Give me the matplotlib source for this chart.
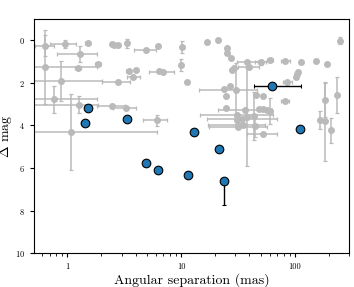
import numpy as np
import matplotlib
matplotlib.use("Agg")
import matplotlib.pyplot as plt

plt.rcParams['font.family'] = 'serif'
plt.rcParams['font.serif'] = ['cmr10', 'DejaVu Serif']
plt.rcParams['mathtext.fontset'] = 'cm'
plt.rcParams['axes.formatter.use_mathtext'] = True

# Literature companions (gray)
gray_sep = [0.64, 0.64, 0.96, 1.51, 1.30, 1.88, 1.25, 0.886, 2.81, 0.77,
            1.27, 2.49, 3.30, 1.08, 6.14, 4.94, 6.34, 2.77, 2.47, 2.59,
            3.34, 10.2, 10.0, 11.3, 3.46, 4.04, 3.78, 6.47, 6.93, 17.0,
            21.1, 25.5, 25.6, 27.4, 29.5, 28.0, 37.9, 50.3, 60.8, 82.4,
            114, 155, 193, 249, 39.7, 106, 102, 104, 85.3, 27.1,
            24.1, 30.4, 25.0, 45.8, 53.1, 37.9, 43.4, 60.8, 82.4, 25.0,
            36.6, 31.0, 34.3, 32.0, 31.7, 53.1, 48.0, 53.1, 56.9, 35.4,
            44.3, 185, 185, 237, 167, 208, 31.0]
gray_dmag = [0.25, 1.26, 0.19, 0.14, 0.65, 1.13, 1.32, 1.92, 1.97, 2.78,
             3.02, 3.10, 3.19, 4.31, 3.76, 0.44, 0.28, 0.22, 0.19, 0.22,
             0.14, 0.30, 1.17, 1.95, 1.43, 1.40, 1.75, 1.45, 1.51, 0.09,
             0.00, 0.38, 0.61, 0.85, 1.29, 1.40, 1.01, 1.04, 0.93, 0.98,
             1.04, 0.98, 1.13, 0.02, 1.25, 1.48, 1.72, 1.60, 1.95, 2.14,
             2.30, 2.34, 2.61, 2.55, 2.61, 3.60, 3.56, 3.33, 2.86, 3.16,
             3.29, 3.49, 3.68, 4.00, 4.07, 4.39, 3.21, 3.24, 3.29, 3.96,
             4.04, 2.82, 3.81, 2.58, 3.73, 4.23, 3.76]
gray_sep_lo = [0.12, 0.30, 0.25, 0.08, 0.48, 0.12, 0.08, 0.45, 0.78, 0.32,
               0.80, 0.65, 0.80, 0.63, 1.50, 1.06, 0, 0, 0, 0,
               0, 0, 0, 0, 0.15, 0, 0.44, 0, 1.75, 0,
               0, 0, 0, 0, 0, 0, 6.9, 5.4, 4.0, 7.0,
               0, 0, 0, 0, 7.7, 0, 0, 0, 7.0, 0,
               0, 16.1, 0, 0, 0, 0, 0, 0, 6.0, 0,
               15.3, 16.2, 17.4, 14.6, 14.0, 15.2, 0, 0, 0, 0,
               0, 0, 0, 0, 0, 0, 0]
gray_sep_hi = [0.12, 1.20, 0.24, 0.08, 0.54, 0.12, 0.08, 1.15, 0.77, 1.07,
               0.60, 0.74, 0.74, 5.10, 1.40, 1.11, 0, 0, 0, 0,
               0, 0, 0, 0, 0.15, 0, 0.60, 0, 1.80, 0,
               0, 0, 0, 0, 0, 0, 10.0, 5.4, 4.0, 8.0,
               0, 0, 0, 0, 8.3, 0, 0, 0, 9.0, 0,
               0, 16.1, 0, 0, 0, 0, 0, 0, 6.0, 0,
               26.3, 34.0, 35.3, 23.0, 25.2, 16.5, 0, 0, 0, 0,
               0, 0, 0, 0, 0, 0, 0]
gray_dmag_err = [0.50, 1.72, 0.18, 0, 0.38, 0.08, 0.05, 0.95, 0, 0.65,
                 0.40, 0.10, 0.08, 1.77, 0.27, 0, 0, 0, 0, 0,
                 0.22, 0.28, 0.28, 0, 0, 0, 0, 0, 0, 0,
                 0, 0, 0, 0, 0.10, 0, 0, 0.10, 0.10, 0,
                 0, 0, 0, 0.18, 0, 0, 0, 0, 0.05, 0,
                 0, 1.26, 0, 0, 0, 2.30, 1.14, 0.60, 0, 0,
                 0, 0, 0, 0, 0, 0, 0, 0, 0, 0,
                 0.50, 0.80, 1.85, 0.85, 0.42, 0.59, 0]

# This work (blue)
blue_sep = [1.52, 1.44, 3.32, 4.92, 6.34, 11.5, 12.9, 21.7, 24.1, 63.7, 110.9]
blue_dmag = [3.16, 3.89, 3.71, 5.77, 6.08, 6.32, 4.31, 5.09, 6.62, 2.14, 4.15]
blue_sep_lo = [0, 0.12, 0, 0, 0, 0, 0, 0, 0, 19.5, 0]
blue_sep_hi = [0, 0.12, 0, 0, 0, 0, 0, 0, 0, 50.0, 0]
blue_dmag_lo = [0, 0, 0, 0, 0, 0, 0, 0, 0, 0, 0]
blue_dmag_hi = [0, 0, 0, 0, 0, 0, 0, 0, 1.10, 0, 0]

fig = plt.figure(figsize=(3.54, 2.87), dpi=100)
ax = fig.add_axes([0.096, 0.118, 0.89, 0.816])

ax.errorbar(gray_sep, gray_dmag,
            xerr=[gray_sep_lo, gray_sep_hi], yerr=gray_dmag_err,
            fmt='o', ms=4.0, color='0.73', ecolor='0.73', elinewidth=1.1,
            capsize=1.3, capthick=0.9, zorder=1)

ax.errorbar(blue_sep, blue_dmag,
            xerr=[blue_sep_lo, blue_sep_hi], yerr=[blue_dmag_lo, blue_dmag_hi],
            fmt='o', ms=6.2, color='#1f77b4', mec='black', mew=0.8,
            ecolor='black', elinewidth=1.0, capsize=1.3, capthick=0.8, zorder=3)

ax.set_xscale('log')
ax.set_xlim(0.51, 300)
ax.set_ylim(10, -1)
ax.set_yticks([0, 2, 4, 6, 8, 10])
ax.set_xticks([1, 10, 100])
ax.set_xticklabels(['1', '10', '100'])
ax.tick_params(labelsize=6, width=0.8, length=3)
ax.tick_params(which='minor', width=0.6, length=1.8)
ax.minorticks_on()
ax.yaxis.set_minor_locator(matplotlib.ticker.NullLocator())

ax.set_xlabel('Angular separation (mas)', fontsize=10, labelpad=2)
ax.set_ylabel(r'$\Delta$ mag', fontsize=10)
ax.yaxis.set_label_coords(-0.062, 0.5)

fig.savefig('out.png', dpi=100)
